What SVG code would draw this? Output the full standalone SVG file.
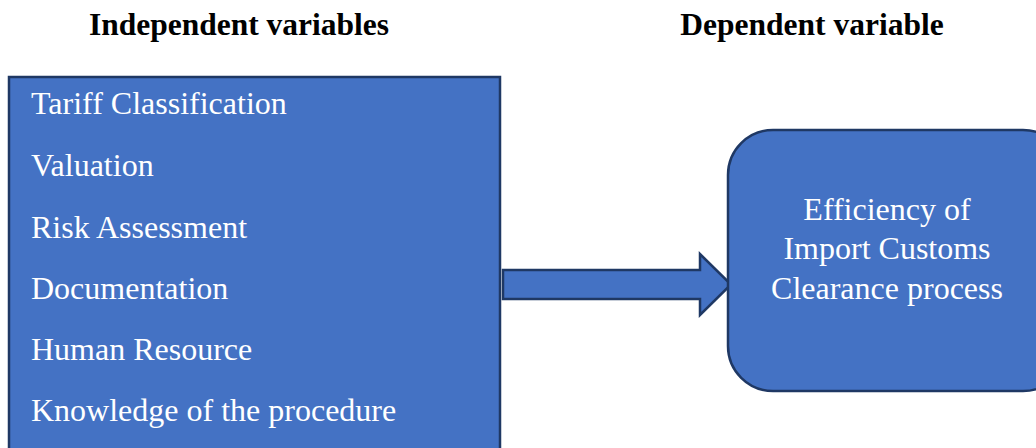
<svg xmlns="http://www.w3.org/2000/svg" width="1036" height="448" viewBox="0 0 1036 448">
<style>
.title{font-family:"Liberation Serif","Times New Roman",serif;font-weight:bold;font-size:31.5px;fill:#000;text-anchor:middle}
.item{font-family:"Liberation Serif","Times New Roman",serif;font-size:32px;fill:#fff}
.ctr{font-family:"Liberation Serif","Times New Roman",serif;font-size:32px;fill:#fff;text-anchor:middle}
.shape{fill:#4472C4;stroke:#1F3864;stroke-width:2.5}
</style>
<rect width="1036" height="448" fill="#fff"/>
<text class="title" x="239" y="35">Independent variables</text>
<text class="title" x="812" y="35">Dependent variable</text>
<g id="independent">
<rect class="shape" x="9" y="77" width="491" height="380"/>
<text class="item" x="31" y="114">Tariff Classification</text>
<text class="item" x="31" y="176">Valuation</text>
<text class="item" x="31" y="238">Risk Assessment</text>
<text class="item" x="31" y="299">Documentation</text>
<text class="item" x="31" y="360">Human Resource</text>
<text class="item" x="31" y="421">Knowledge of the procedure</text>
</g>
<g id="connectors">
<path class="shape" d="M503,270 H700 V254 L731,284.5 L700,315 V299 H503 Z"/>
</g>
<g id="dependent">
<rect class="shape" x="728" y="130" width="340" height="261" rx="45" ry="45"/>
<text class="ctr" x="887" y="220">Efficiency of</text>
<text class="ctr" x="887" y="259">Import Customs</text>
<text class="ctr" x="887" y="299">Clearance process</text>
</g>
</svg>
